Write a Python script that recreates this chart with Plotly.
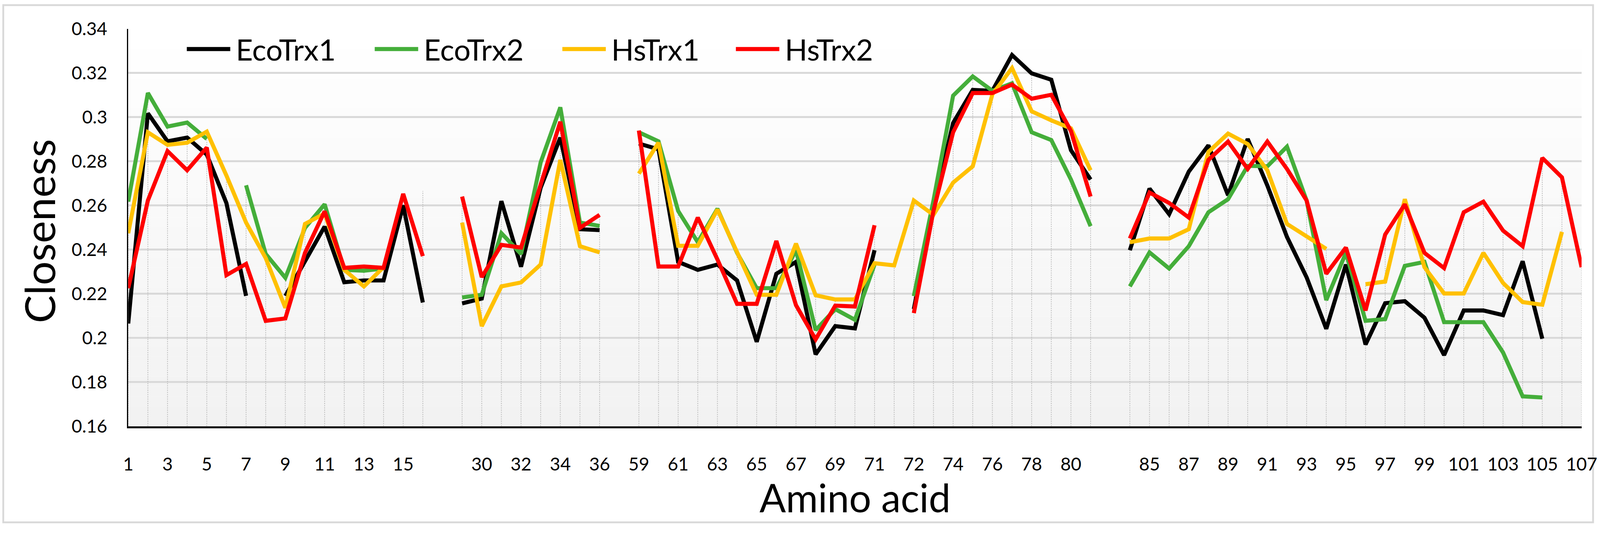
# Closeness per amino acid for the four thioredoxins

import plotly.graph_objects as go

# category labels (blank = gap between the aligned segments)
categories = (
    [str(i) for i in range(1, 17)] + [""]
    + [str(i) for i in range(29, 37)] + [""]
    + [str(i) for i in range(59, 72)]
    + [str(i) for i in range(71, 82)] + [""]
    + [str(i) for i in range(84, 108)]
)

eco_trx1 = [
    0.2065, 0.3017, 0.289, 0.2907, 0.283, 0.261, 0.219, None, 0.219, 0.235,
    0.2504, 0.2252, 0.226, 0.226, 0.260, 0.216, None,
    0.2156, 0.2178, 0.2619, 0.2322, 0.268, 0.2907, 0.2492, 0.2488, None,
    0.288, 0.2854, 0.2344, 0.2308, 0.2332, 0.226, 0.1982, 0.229, 0.2344,
    0.1925, 0.2053, 0.2043, 0.2397,
    None, 0.213, 0.259, 0.2973, 0.3123, 0.3119, 0.3281, 0.3198, 0.3169,
    0.285, 0.2717, None,
    0.2397, 0.2676, 0.256, 0.2753, 0.2872, 0.2646, 0.2901, 0.269, 0.2457,
    0.2274, 0.2041, 0.2332, 0.197, 0.2157, 0.2166, 0.2091, 0.1922, 0.2124,
    0.2124, 0.2103, 0.2347, 0.1996, None, None,
]

eco_trx2 = [
    0.2617, 0.3109, 0.2957, 0.2975, 0.2901, None, 0.2691, 0.238, 0.2272,
    0.2498, 0.2605, 0.2308, 0.2304, 0.2314, None, 0.2665, None,
    0.2183, 0.2195, 0.2474, 0.238, 0.2795, 0.3044, 0.2522, 0.2507, None,
    0.2931, 0.289, 0.2575, 0.2433, 0.2585, 0.2385, 0.2225, 0.2225, 0.2397,
    0.2035, 0.213, 0.2082, 0.2332,
    None, 0.2189, 0.2622, 0.3097, 0.3184, 0.3119, 0.3153, 0.2931, 0.2896,
    0.2717, 0.2506, None,
    0.2233, 0.2387, 0.2314, 0.2415, 0.2569, 0.2628, 0.2779, 0.2777, 0.2866,
    0.2622, 0.2171, 0.2385, 0.2077, 0.2085, 0.2326, 0.2344, 0.2071, 0.2071,
    0.2071, 0.1934, 0.1735, 0.173, None, None,
]

hs_trx1 = [
    0.2474, 0.2931, 0.2874, 0.2884, 0.2934, 0.2735, 0.2522, 0.2361, 0.2136,
    0.2516, 0.2563, 0.2308, 0.2233, 0.232, None, None, None,
    0.2522, 0.2053, 0.2233, 0.2251, 0.2332, 0.2806, 0.2415, 0.2387, None,
    0.2744, 0.2884, 0.2417, 0.2417, 0.2581, 0.2385, 0.2195, 0.2195, 0.2427,
    0.2193, 0.2174, 0.2174, 0.2338,
    0.2328, 0.2622, 0.2557, 0.2703, 0.2777, 0.3103, 0.3222, 0.3026, 0.2985,
    0.2949, 0.2759, None,
    0.2433, 0.245, 0.245, 0.2492, 0.2842, 0.2925, 0.2878, 0.2759, 0.2516,
    0.2457, 0.2403, None, 0.2243, 0.2255, 0.2628, 0.232, 0.2201, 0.2201,
    0.2385, 0.2249, 0.2162, 0.215, 0.248, None,
]

hs_trx2 = [
    0.2225, 0.2622, 0.2846, 0.2759, 0.2862, 0.2284, 0.2335, 0.2077, 0.2088,
    0.2385, 0.2573, 0.2317, 0.2323, 0.2317, 0.2652, 0.237, None,
    0.264, 0.2275, 0.2421, 0.2409, 0.2694, 0.2979, 0.2498, 0.2557, None,
    0.2939, 0.2323, 0.2323, 0.2545, 0.2355, 0.2154, 0.2154, 0.2439, 0.2148,
    0.1993, 0.2146, 0.2142, 0.251,
    None, 0.2112, 0.2575, 0.2931, 0.3109, 0.3109, 0.3147, 0.3083, 0.3101,
    0.2937, 0.264, None,
    0.245, 0.2658, 0.2611, 0.2545, 0.2806, 0.2889, 0.2765, 0.2889, 0.2765,
    0.2622, 0.229, 0.2409, 0.2124, 0.2468, 0.2605, 0.2385, 0.2316, 0.2569,
    0.2617, 0.2486, 0.2415, 0.2815, 0.2727, 0.232,
]

series_names = ["EcoTrx1", "EcoTrx2", "HsTrx1", "HsTrx2"]
series_values = [eco_trx1, eco_trx2, hs_trx1, hs_trx2]
series_colors = ["#000000", "#44ae3a", "#ffc000", "#ff0000"]

y_ticks = [0.16, 0.18, 0.2, 0.22, 0.24, 0.26, 0.28, 0.3, 0.32, 0.34]
y_tick_labels = ["0.16", "0.18", "0.2", "0.22", "0.24", "0.26", "0.28", "0.3", "0.32", "0.34"]

FONT = "Lato"
W, H = 4342, 1433
x = list(range(len(categories)))

fig = go.Figure()

# drop lines from the highest point of each category down to the axis
drop_x, drop_y = [], []
for i in x:
    vals = [s[i] for s in series_values if s[i] is not None]
    if vals:
        drop_x += [i, i, None]
        drop_y += [y_ticks[0], max(vals), None]
fig.add_trace(
    go.Scatter(
        x=drop_x,
        y=drop_y,
        mode="lines",
        line=dict(color="#b8b8b8", width=2, dash="dot"),
        hoverinfo="skip",
        showlegend=False,
    )
)

for name, vals, color in zip(series_names, series_values, series_colors):
    fig.add_trace(
        go.Scatter(
            x=x,
            y=vals,
            mode="lines",
            name=name,
            line=dict(color=color, width=11),
            connectgaps=False,
            showlegend=False,
        )
    )

# gradient plot background: white at the top, light grey at the bottom
shapes = []
n_bands = 40
for k in range(n_bands):
    t = k / (n_bands - 1)
    g = int(round(242 + (255 - 242) * t))
    shapes.append(
        dict(
            type="rect", xref="x domain", yref="y domain",
            x0=0, x1=1, y0=k / n_bands, y1=(k + 1) / n_bands,
            fillcolor=f"rgb({g},{g},{g})", line=dict(width=0), layer="below",
        )
    )
# chart border
shapes.append(
    dict(
        type="rect", xref="paper", yref="paper",
        x0=-0.086, x1=1.0079, y0=-0.242, y1=1.0594,
        line=dict(color="#d9d9d9", width=5), layer="below",
    )
)

# legend drawn by hand so the line keys are as long as in the original
annotations = []
legend_starts = [0.0403, 0.1696, 0.2987, 0.4181]
for name, color, x0 in zip(series_names, series_colors, legend_starts):
    shapes.append(
        dict(
            type="line", xref="paper", yref="paper",
            x0=x0, x1=x0 + 0.0299, y0=0.949, y1=0.949,
            line=dict(color=color, width=11),
        )
    )
    annotations.append(
        dict(
            text=name, xref="paper", yref="paper", x=x0 + 0.0332, y=0.949,
            xanchor="left", yanchor="middle", showarrow=False,
            font=dict(family=FONT, size=80, color="#000000"),
        )
    )

annotations.append(
    dict(
        text="Closeness", xref="paper", yref="paper", x=-0.0616, y=0.491,
        textangle=-90, xanchor="center", yanchor="middle", showarrow=False,
        font=dict(family=FONT, size=114, color="#000000"),
    )
)
annotations.append(
    dict(
        text="Amino acid", xref="paper", yref="paper", x=0.5, y=-0.179,
        xanchor="center", yanchor="middle", showarrow=False,
        font=dict(family=FONT, size=106, color="#000000"),
    )
)

fig.update_layout(
    width=W,
    height=H,
    autosize=False,
    margin=dict(l=348, r=50, t=78, b=277, autoexpand=False),
    paper_bgcolor="#ffffff",
    plot_bgcolor="#ffffff",
    showlegend=False,
    shapes=shapes,
    annotations=annotations,
    font=dict(family=FONT, color="#000000"),
)
fig.update_xaxes(
    range=[0, len(categories) - 1],
    tickvals=x[::2],
    ticktext=categories[::2],
    tickfont=dict(family=FONT, size=49, color="#000000"),
    ticks="",
    ticklabelstandoff=56,
    showgrid=False,
    zeroline=False,
    showline=True,
    linecolor="#000000",
    linewidth=6,
    automargin=False,
)
fig.update_yaxes(
    range=[y_ticks[0], y_ticks[-1]],
    tickvals=y_ticks,
    ticktext=y_tick_labels,
    tickfont=dict(family=FONT, size=49, color="#000000"),
    ticks="",
    ticklabelstandoff=44,
    showgrid=True,
    gridcolor="#d9d9d9",
    gridwidth=5,
    zeroline=False,
    showline=True,
    linecolor="#000000",
    linewidth=3,
    automargin=False,
)

# make the fixed-size figure fit the browser viewport width exactly
# (no body margin, no scrollbars)
fit_page = (
    "document.documentElement.style.overflow='hidden';"
    "document.body.style.margin='0';"
    "document.body.style.zoom=(window.innerWidth/%d);" % W
)

fig.write_html("out.html", post_script=fit_page, config={"displayModeBar": False})
